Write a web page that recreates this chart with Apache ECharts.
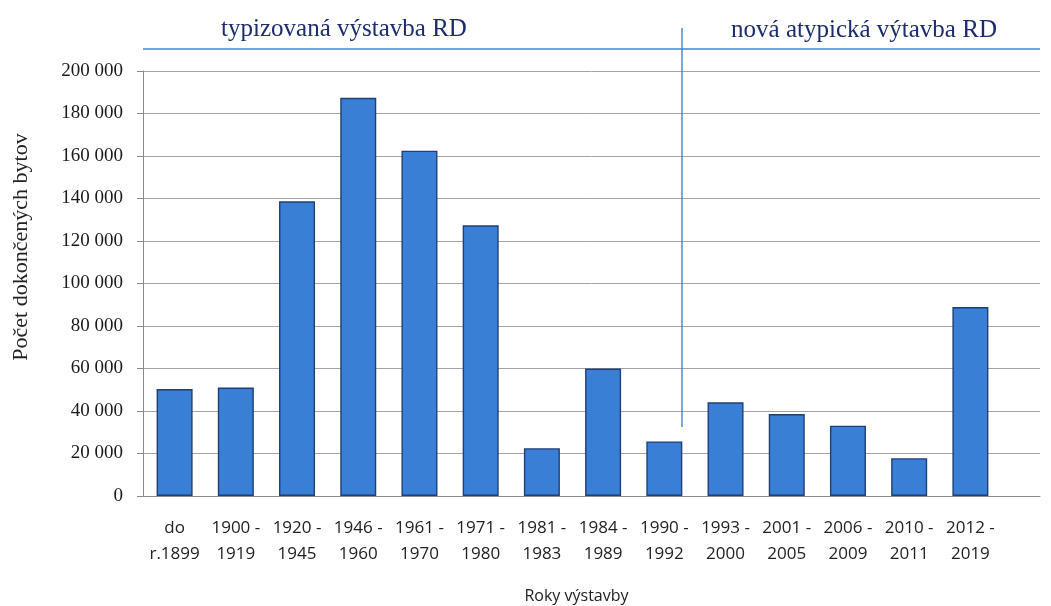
<!DOCTYPE html>
<html>
<head>
<meta charset="utf-8">
<script src="https://cdn.jsdelivr.net/npm/echarts@6/dist/echarts.min.js"></script>
<style>
  html, body { margin: 0; padding: 0; background: #fff; }
  #chart { width: 1051px; height: 606px; }
</style>
</head>
<body>
<div id="chart"></div>
<script>
// data
const categories = [
  "do\nr.1899", "1900 -\n1919", "1920 -\n1945", "1946 -\n1960", "1961 -\n1970",
  "1971 -\n1980", "1981 -\n1983", "1984 -\n1989", "1990 -\n1992", "1993 -\n2000",
  "2001 -\n2005", "2006 -\n2009", "2010 -\n2011", "2012 -\n2019"
];
const flats = [
  50300, 51000, 138700, 187400, 162500,
  127400, 22500, 60000, 25700, 44100,
  38600, 33100, 17800, 88900
];
const yTicks = [0, 20000, 40000, 60000, 80000, 100000, 120000, 140000, 160000, 180000, 200000];
const sectionLabels = ["typizovaná výstavba RD", "nová atypická výtavba RD"];
const yTitle = "Počet dokončených bytov";
const xTitle = "Roky výstavby";

const chart = echarts.init(document.getElementById("chart"));

const serif = "'Liberation Serif', 'DejaVu Serif', serif";
const sans = "'Open Sans', 'Liberation Sans', sans-serif";
const lineBlue = "#3f86d6";

function fmt(v) {
  return String(v).replace(/\B(?=(\d{3})+(?!\d))/g, " ");
}

let option = {
  animation: false,
  backgroundColor: "#fff",
  grid: [
    // full-width frame: gridlines, y axis and baseline
    { left: 143, right: 11, top: 71, bottom: 110, outerBoundsMode: "none" },
    // bars sit in a narrower area, like the original
    { left: 144, right: 50, top: 71, bottom: 110, outerBoundsMode: "none" }
  ],
  xAxis: [
    {
      gridIndex: 0,
      type: "category",
      data: [""],
      axisLine: { show: true, lineStyle: { color: "#8a8a90", width: 1 } },
      axisTick: { show: false },
      axisLabel: { show: false }
    },
    {
      gridIndex: 1,
      type: "category",
      data: categories,
      axisLine: { show: false },
      axisTick: { show: false },
      axisLabel: {
        interval: 0,
        margin: 19,
        fontFamily: sans,
        fontSize: 17,
        lineHeight: 26,
        color: "#222",
        align: "center"
      },
      name: xTitle,
      nameLocation: "middle",
      nameGap: 92,
      nameTextStyle: { fontFamily: sans, fontSize: 16, color: "#222", padding: [0, 0, 0, 8] }
    }
  ],
  yAxis: [
    {
      gridIndex: 0,
      type: "value",
      min: 0,
      max: yTicks[yTicks.length - 1],
      interval: yTicks[1] - yTicks[0],
      axisLine: { show: true, lineStyle: { color: "#8a8a90", width: 1 } },
      axisTick: { show: true, length: 6, lineStyle: { color: "#8a8a90" } },
      axisLabel: {
        margin: 20,
        fontFamily: serif,
        fontSize: 19,
        color: "#1a1a1a",
        formatter: fmt
      },
      splitLine: {
        show: true,
        lineStyle: { color: "#a4a4ac", width: 1 }
      }
    },
    {
      gridIndex: 1,
      type: "value",
      min: 0,
      max: yTicks[yTicks.length - 1],
      show: false,
      splitLine: { show: false }
    }
  ],
  series: [
    {
      type: "bar",
      xAxisIndex: 1,
      yAxisIndex: 1,
      data: flats,
      barWidth: 36,
      itemStyle: {
        color: "#3a7fd6",
        borderColor: "#203f75",
        borderWidth: 1.4
      }
    }
  ],
  graphic: [
    // section divider lines
    {
      type: "line",
      shape: { x1: 143, y1: 49, x2: 1040, y2: 49 },
      style: { stroke: lineBlue, lineWidth: 1.6 },
      z: 10
    },
    {
      type: "line",
      shape: { x1: 682, y1: 28, x2: 682, y2: 427 },
      style: { stroke: lineBlue, lineWidth: 1.4 },
      z: 10
    },
    {
      type: "text",
      x: 344, y: 29,
      style: {
        text: sectionLabels[0],
        fontFamily: serif, fontSize: 25, fill: "#1c2c6e",
        textAlign: "center", textVerticalAlign: "middle"
      }
    },
    {
      type: "text",
      x: 864, y: 30,
      style: {
        text: sectionLabels[1],
        fontFamily: serif, fontSize: 25, fill: "#1c2c6e",
        textAlign: "center", textVerticalAlign: "middle"
      }
    },
    {
      type: "text",
      x: 21, y: 247,
      rotation: Math.PI / 2,
      style: {
        text: yTitle,
        fontFamily: serif, fontSize: 22, fill: "#222",
        textAlign: "center", textVerticalAlign: "middle"
      }
    }
  ]
};

chart.setOption(option);
window.addEventListener("resize", () => {
  chart.resize();
});
</script>
</body>
</html>
